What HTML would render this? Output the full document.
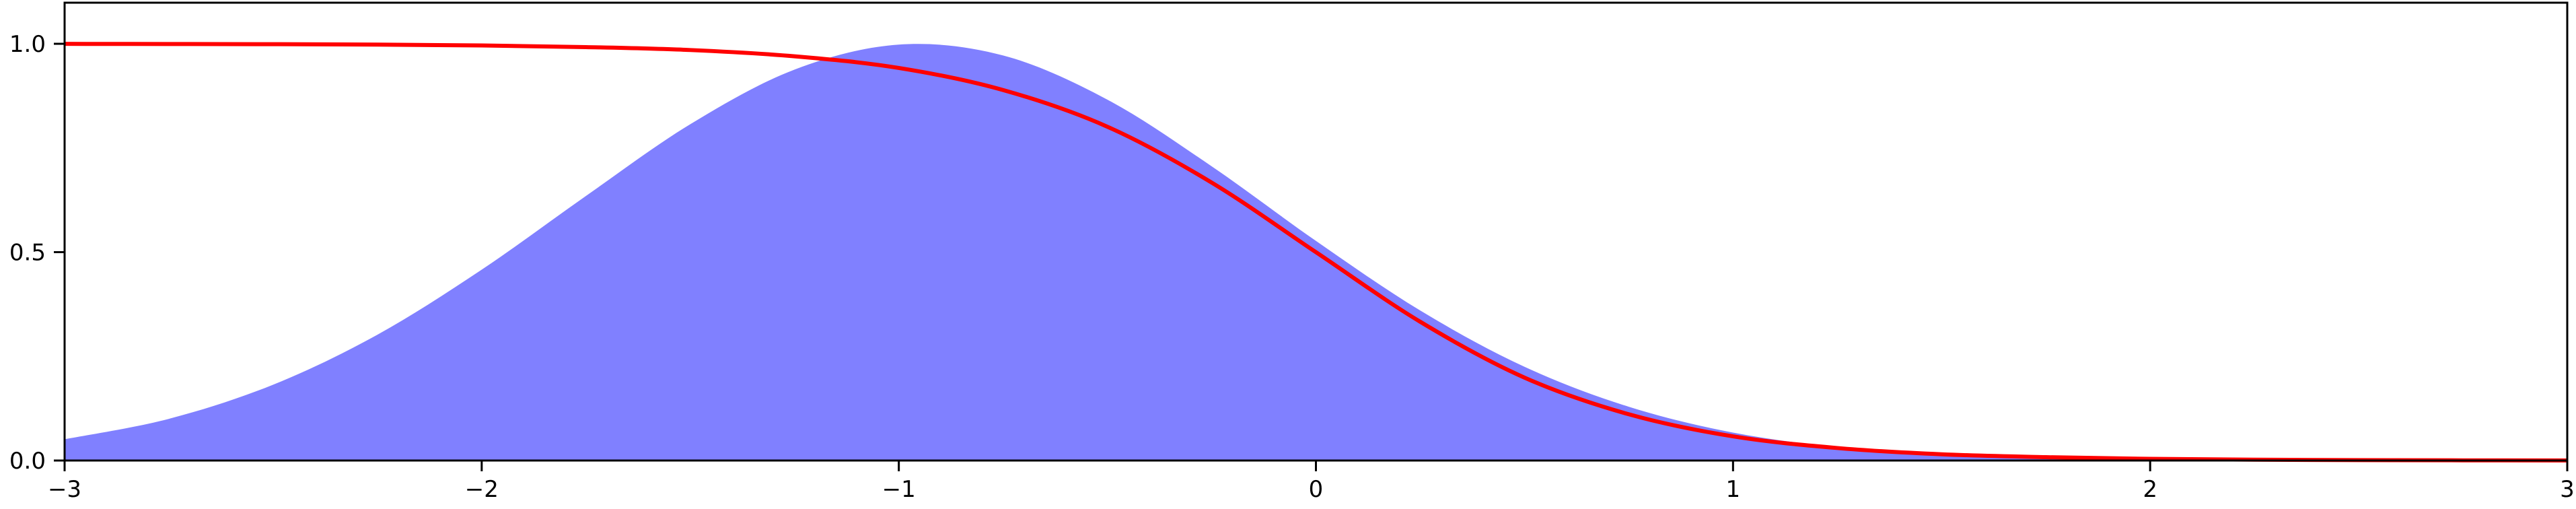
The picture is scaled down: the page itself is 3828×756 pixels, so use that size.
<!DOCTYPE html>
<html><head><meta charset="utf-8"><style>
html,body{margin:0;padding:0;background:#fff;}
svg{display:block;font-family:"DejaVu Sans","Liberation Sans",sans-serif;}
</style></head><body>
<svg id="chart" width="3828" height="756" viewBox="0 0 3828 756" xmlns="http://www.w3.org/2000/svg"></svg>
<script>
const xValues = [-3,-2.75,-2.5,-2.25,-2,-1.75,-1.5,-1.25,-1,-0.75,-0.5,-0.25,0,0.25,0.5,0.75,1,1.25,1.5,1.75,2,2.25,2.5,2.75,3];
const fillValues = [0.051,0.100,0.182,0.302,0.458,0.635,0.807,0.938,0.998,0.972,0.866,0.706,0.527,0.360,0.225,0.129,0.067,0.032,0.014,0.0057,0.002,0.0007,0.0002,0.0,0.0];
const lineValues = [0.9998,0.9995,0.999,0.998,0.996,0.992,0.985,0.970,0.942,0.889,0.801,0.667,0.5,0.333,0.199,0.111,0.058,0.030,0.015,0.008,0.004,0.002,0.001,0.0005,0.0002];
const xTicks = [-3,-2,-1,0,1,2,3];
const xTickLabels = ["\u22123","\u22122","\u22121","0","1","2","3"];
const yTicks = [0,0.5,1.0];
const yTickLabels = ["0.0","0.5","1.0"];

const L=96,R=3815,T=4,B=684, xmin=-3,xmax=3,ymin=0,ymax=1.0986;
const sx=v=>L+(v-xmin)/(xmax-xmin)*(R-L);
const sy=v=>B-(v-ymin)/(ymax-ymin)*(B-T);
const NS="http://www.w3.org/2000/svg";
const svg=document.getElementById('chart');
function mk(tag,attrs){const e=document.createElementNS(NS,tag);for(const k in attrs)e.setAttribute(k,attrs[k]);return e;}
function smoothPath(xs,ys){
  const p=xs.map((x,i)=>[sx(x),sy(ys[i])]);
  let d=`M${p[0][0]},${p[0][1]}`;
  for(let i=0;i<p.length-1;i++){
    const p0=p[i-1]||p[i],p1=p[i],p2=p[i+1],p3=p[i+2]||p[i+1];
    const c1=[p1[0]+(p2[0]-p0[0])/6,p1[1]+(p2[1]-p0[1])/6];
    const c2=[p2[0]-(p3[0]-p1[0])/6,p2[1]-(p3[1]-p1[1])/6];
    d+=` C${c1[0]},${c1[1]} ${c2[0]},${c2[1]} ${p2[0]},${p2[1]}`;
  }
  return d;
}
const area=mk('path',{d:smoothPath(xValues,fillValues)+` L${sx(xmax)},${sy(0)} L${sx(xmin)},${sy(0)} Z`,fill:'#8080ff',stroke:'none'});


svg.appendChild(area);
const line=mk('path',{d:smoothPath(xValues,lineValues),fill:'none',stroke:'#ff0000','stroke-width':6});


svg.appendChild(line);
const frame=mk('rect',{x:L,y:T,width:R-L,height:B-T,fill:'none',stroke:'#000','stroke-width':3});


svg.appendChild(frame);
xTicks.forEach((v,i)=>{
  const t=mk('line',{x1:sx(v),x2:sx(v),y1:B,y2:B+16,stroke:'#000','stroke-width':3});
  
  
  svg.appendChild(t);
  const tx=mk('text',{x:sx(v),y:B+54,'text-anchor':'middle','font-size':34,fill:'#000'});
  tx.textContent=xTickLabels[i];
  
  
  svg.appendChild(tx);
});
yTicks.forEach((v,i)=>{
  const t=mk('line',{x1:L-16,x2:L,y1:sy(v),y2:sy(v),stroke:'#000','stroke-width':3});
  
  
  svg.appendChild(t);
  const tx=mk('text',{x:L-28,y:sy(v)+12,'text-anchor':'end','font-size':34,fill:'#000'});
  tx.textContent=yTickLabels[i];
  
  
  svg.appendChild(tx);
});
</script>
</body></html>
